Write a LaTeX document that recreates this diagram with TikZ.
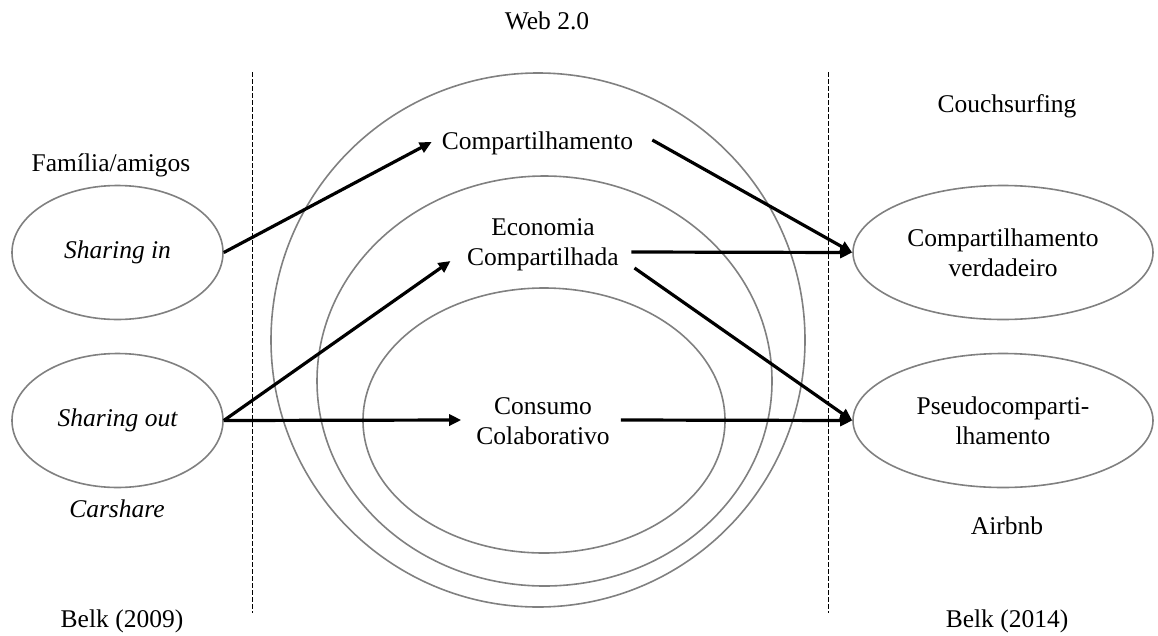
\documentclass[tikz,border=0pt]{standalone}
\usepackage{fontspec}
\setmainfont{Liberation Serif}
\usetikzlibrary{arrows.meta,shapes.geometric,calc}
\definecolor{ringgray}{RGB}{128,128,128}
\begin{document}
\begin{tikzpicture}[x=1pt,y=-1pt,
  every node/.style={font=\fontsize{25.5}{30}\selectfont, inner sep=0pt},
  ring/.style={draw=ringgray, line width=1.6pt},
  oval/.style={ellipse, ring, minimum width=#1, minimum height=134pt, align=center},
  label/.style={anchor=base},
  flow/.style={line width=3.2pt, -{Triangle[length=12pt,width=11pt]}},
  divider/.style={line width=1pt, dash pattern=on 4.5pt off 2.5pt}
]
\useasboundingbox (0,0) rectangle (1158,635);

% separators between the three eras
\coordinate (d1t) at (252,72);  \coordinate (d1b) at (252,613);
\coordinate (d2t) at (828,72);  \coordinate (d2b) at (828,613);
\draw[divider] (d1t) -- (d1b);
\draw[divider] (d2t) -- (d2b);

% nested concept rings
\draw[ring] (538,340) ellipse [x radius=267, y radius=267];
\draw[ring] (544.5,381) ellipse [x radius=227.5, y radius=205];
\draw[ring] (544,420.5) ellipse [x radius=181, y radius=132.5];

% headings and captions
\node[label] (web)    at (547,29)    {Web 2.0};
\node[label] (couch)  at (1007,112)  {Couchsurfing};
\node[label] (fam)    at (111,171)   {Família/amigos};
\node[label] (car)    at (117,517)   {\itshape Carshare};
\node[label] (air)    at (1007,534)  {Airbnb};
\node[label] (belk09) at (122,627)   {Belk (2009)};
\node[label] (belk14) at (1007,627)  {Belk (2014)};

% Belk (2009) forms of sharing
\node[oval=211pt] (sin)  at (117.5,252.5) {\itshape Sharing in};
\node[oval=211pt] (sout) at (117.5,420.5) {\itshape Sharing out};

% concepts inside the rings
\node (comp) at (537.5,143) {Compartilhamento};
\node[align=center] (eco)  at (543,245) {Economia\\Compartilhada};
\node[align=center] (cons) at (543,421) {Consumo\\Colaborativo};

% Belk (2014) forms of sharing
\node[oval=300pt] (cv) at (1003,252.5) {Compartilhamento\\verdadeiro};
\node[oval=300pt] (ps) at (1003,420.5) {Pseudocomparti-\\lhamento};

% connections
\draw[flow] (sin.east)  -- ($(comp.west)+(-10,-1)$);
\draw[flow] (sout.east) -- ($(eco.west)+(-16.5,16)$);
\draw[flow] (sout.east) -- ($(cons.west)+(-15,-1)$);
\draw[flow] ($(comp.east)+(19,-3)$)  -- (cv.west);
\draw[flow] ($(eco.east)+(12.5,7)$)  -- (cv.west);
\draw[flow] ($(eco.east)+(15.5,23)$) -- (ps.west);
\draw[flow] ($(cons.east)+(11,-1)$)  -- (ps.west);
\end{tikzpicture}
\end{document}
